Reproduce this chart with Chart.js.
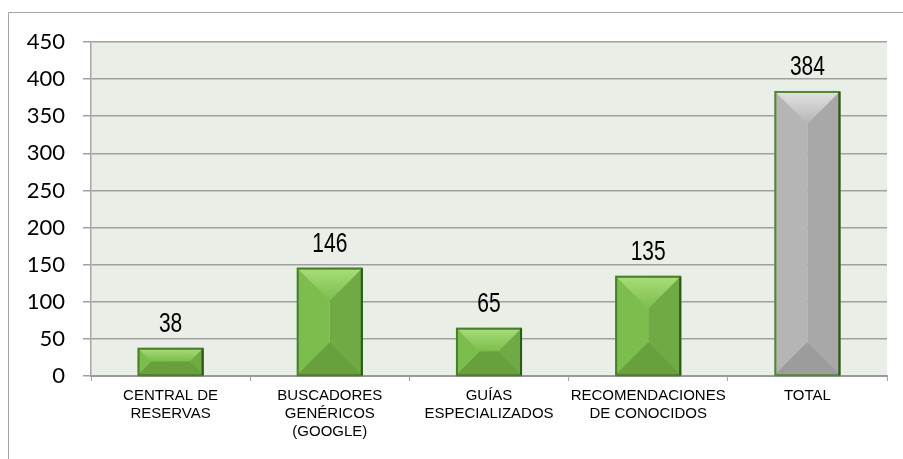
<!DOCTYPE html>
<html>
<head>
<meta charset="utf-8">
<script src="https://cdn.jsdelivr.net/npm/chart.js@4.4.1/dist/chart.umd.min.js"></script>
<style>
  html, body { margin: 0; padding: 0; background: #fff; }
  #wrap { width: 903px; height: 459px; position: relative; }
</style>
</head>
<body>
<div id="wrap"><canvas id="chartCanvas" width="903" height="459"></canvas></div>
<script>
// Data
var categoryLabels = [
  ["CENTRAL DE", "RESERVAS"],
  ["BUSCADORES", "GENÉRICOS", "(GOOGLE)"],
  ["GUÍAS", "ESPECIALIZADOS"],
  ["RECOMENDACIONES", "DE CONOCIDOS"],
  ["TOTAL"]
];
var responseCounts = [38, 146, 65, 135, 384];
var yTickValues = [0, 50, 100, 150, 200, 250, 300, 350, 400, 450];

var narrowFont = "'Liberation Sans Narrow', 'Arial Narrow', 'Liberation Sans', Arial, sans-serif";
var tickFont = "Lato, Carlito, 'Open Sans', sans-serif";

// bevel colours: top, left, right, bottom, border
var greenBevel = { top: "#a8de7a", left: "#7dbd4d", right: "#70aa45", bottom: "#67a03d", border: "#4b7d2b" };
var grayBevel = { top: "#e2e2e2", left: "#b5b5b5", right: "#a8a8a8", bottom: "#9c9c9c", border: "#508a2e" };

// white background, outer frame and plot area fill
var backgroundPlugin = {
  id: "backgroundPlugin",
  beforeDraw: function (chart) {
    var ctx = chart.ctx;
    var area = chart.chartArea;
    ctx.save();
    ctx.fillStyle = "#ffffff";
    ctx.fillRect(0, 0, chart.width, chart.height);
    ctx.strokeStyle = "#a6a6a6";
    ctx.lineWidth = 1;
    ctx.beginPath();
    ctx.moveTo(8.5, chart.height);
    ctx.lineTo(8.5, 12.5);
    ctx.lineTo(chart.width, 12.5);
    ctx.stroke();
    ctx.fillStyle = "#e9eee7";
    ctx.fillRect(area.left, area.top, area.right - area.left, area.bottom - area.top);
    ctx.restore();
  }
};

// draws bevel shading inside each bar element and the value labels
var bevelPlugin = {
  id: "bevelPlugin",
  afterDatasetsDraw: function (chart) {
    var ctx = chart.ctx;
    var meta = chart.getDatasetMeta(0);
    meta.data.forEach(function (bar, i) {
      var props = bar.getProps(["x", "y", "base", "width"], true);
      var left = props.x - props.width / 2;
      var right = props.x + props.width / 2;
      var top = props.y;
      var bottom = props.base;
      var h = bottom - top;
      var d = Math.min(props.width / 2, h / 2);
      var c = i === responseCounts.length - 1 ? grayBevel : greenBevel;
      ctx.save();
      // left panel
      ctx.fillStyle = c.left;
      ctx.fillRect(left, top, props.width / 2, h);
      // right panel
      ctx.fillStyle = c.right;
      ctx.fillRect(props.x, top, props.width / 2, h);
      // top trapezoid
      var gTop = ctx.createLinearGradient(0, top, 0, top + d);
      gTop.addColorStop(0, c.top);
      gTop.addColorStop(1, c.left);
      ctx.fillStyle = gTop;
      ctx.beginPath();
      ctx.moveTo(left, top);
      ctx.lineTo(right, top);
      ctx.lineTo(right - d, top + d);
      ctx.lineTo(left + d, top + d);
      ctx.closePath();
      ctx.fill();
      // bottom trapezoid
      ctx.fillStyle = c.bottom;
      ctx.beginPath();
      ctx.moveTo(left, bottom);
      ctx.lineTo(right, bottom);
      ctx.lineTo(right - d, bottom - d);
      ctx.lineTo(left + d, bottom - d);
      ctx.closePath();
      ctx.fill();
      // border
      ctx.strokeStyle = c.border;
      ctx.lineWidth = 2;
      ctx.strokeRect(left + 1, top + 1, props.width - 2, h - 1);
      ctx.strokeStyle = "#2f5a1c";
      ctx.beginPath();
      ctx.moveTo(right - 1, top + 1);
      ctx.lineTo(right - 1, bottom);
      ctx.stroke();
      // value label, condensed horizontally like a narrow face
      ctx.fillStyle = "#000000";
      ctx.font = "28px " + narrowFont;
      ctx.textAlign = "center";
      ctx.textBaseline = "alphabetic";
      ctx.translate(props.x, top - 16);
      ctx.scale(0.75, 1);
      ctx.fillText(String(responseCounts[i]), 0, 0);
      ctx.restore();
    });
  }
};

var ctx = document.getElementById("chartCanvas").getContext("2d");
var responseChart = new Chart(ctx, {
  type: "bar",
  data: {
    labels: categoryLabels,
    datasets: [
      {
        data: responseCounts,
        backgroundColor: "rgba(0,0,0,0)",
        borderWidth: 0,
        categoryPercentage: 1,
        barPercentage: 0.415
      }
    ]
  },
  plugins: [backgroundPlugin, bevelPlugin],
  options: {
    responsive: false,
    animation: false,
    layout: { padding: { left: 0, top: 42, right: 16, bottom: 0 } },
    plugins: {
      legend: { display: false },
      tooltip: { enabled: false }
    },
    scales: {
      x: {
        afterFit: function (scale) { scale.height = 83; },
        grid: {
          display: true,
          drawOnChartArea: false,
          offset: true,
          tickLength: 5,
          color: "#a6a6a6",
          lineWidth: 1
        },
        border: { display: true, color: "#9a9a9a", width: 2 },
        ticks: {
          color: "#000000",
          font: { family: narrowFont, size: 15 },
          padding: 6,
          maxRotation: 0,
          autoSkip: false
        }
      },
      y: {
        min: 0,
        max: 450,
        afterFit: function (scale) { scale.width = 91; },
        afterBuildTicks: function (scale) {
          scale.ticks = yTickValues.map(function (v) { return { value: v }; });
        },
        grid: {
          color: "#a0a0a0",
          lineWidth: 1.5,
          tickLength: 8
        },
        border: { display: true, color: "#a6a6a6", width: 1.5 },
        ticks: {
          color: "#000000",
          font: { family: tickFont, size: 22 },
          padding: 18
        }
      }
    }
  }
});
</script>
</body>
</html>
